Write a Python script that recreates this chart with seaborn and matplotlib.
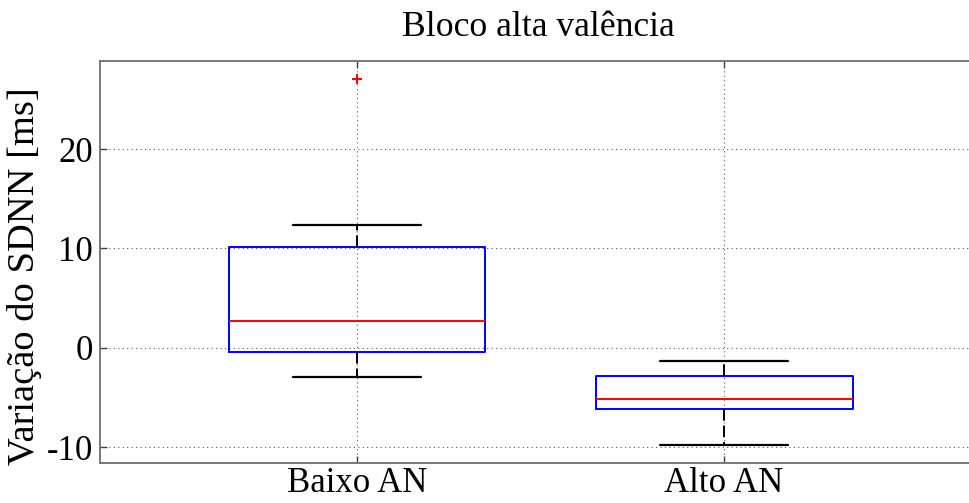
import matplotlib
matplotlib.use("Agg")
import matplotlib.pyplot as plt
import seaborn as sns

# Summary statistics per group (ms)
groups = ["Baixo AN", "Alto AN"]
medians = [2.7, -5.2]
q1 = [-0.45, -6.2]
q3 = [10.1, -2.85]
whisker_low = [-3.0, -9.8]
whisker_high = [12.35, -1.35]
outliers = [[27.05], []]

sns.set_style("white")
plt.rcParams["font.family"] = ["Liberation Serif", "DejaVu Serif"]
plt.rcParams["text.color"] = "black"
plt.rcParams["axes.labelcolor"] = "black"
plt.rcParams["xtick.color"] = "black"
plt.rcParams["ytick.color"] = "black"

fig = plt.figure(figsize=(9.69, 5.03), dpi=100)
ax = fig.add_axes([0.1032, 0.0795, 0.905, 0.7992])

stats = []
for i, name in enumerate(groups):
    stats.append(dict(label=name, med=medians[i], q1=q1[i], q3=q3[i],
                      whislo=whisker_low[i], whishi=whisker_high[i],
                      fliers=outliers[i]))

positions = list(range(1, len(groups) + 1))
ax.bxp(stats, positions=positions, widths=0.70, capwidths=0.35,
       showfliers=True, patch_artist=False,
       boxprops=dict(color="#0000ff", linewidth=1.4),
       medianprops=dict(color="#ff0000", linewidth=1.4),
       whiskerprops=dict(color="black", linewidth=1.4, linestyle=(0, (6, 2.5))),
       capprops=dict(color="black", linewidth=1.6),
       flierprops=dict(marker="+", markeredgecolor="#ff0000", markersize=7,
                       markeredgewidth=1.5, linestyle="none"))

ax.set_xlim(0.2997, 2.689)
ax.set_ylim(-11.61, 28.86)
ax.set_yticks([-10, 0, 10, 20])
ax.set_yticklabels(["-10", "0", "10", "20"])
ax.set_xticks(positions)
ax.set_xticklabels(groups)

ax.grid(True, linestyle=(0, (1, 3)), color="#555555", linewidth=0.8)
ax.set_axisbelow(True)

for side in ["left", "right", "top", "bottom"]:
    ax.spines[side].set_color("#707070")
    ax.spines[side].set_linewidth(1.3)
    ax.spines[side].set_visible(True)

ax.tick_params(axis="both", which="both", direction="in", length=5, width=1.0,
               color="#404040", top=True, right=True, bottom=True, left=True,
               labelsize=25, pad=5)
ax.tick_params(axis="x", pad=3)

ax.set_ylabel("Variação do SDNN [ms]", fontsize=27.7)
ax.yaxis.set_label_coords(-0.066, 0.465)
ax.set_title("Bloco alta valência", fontsize=25.7, pad=18)

fig.savefig("out.png", dpi=100)
